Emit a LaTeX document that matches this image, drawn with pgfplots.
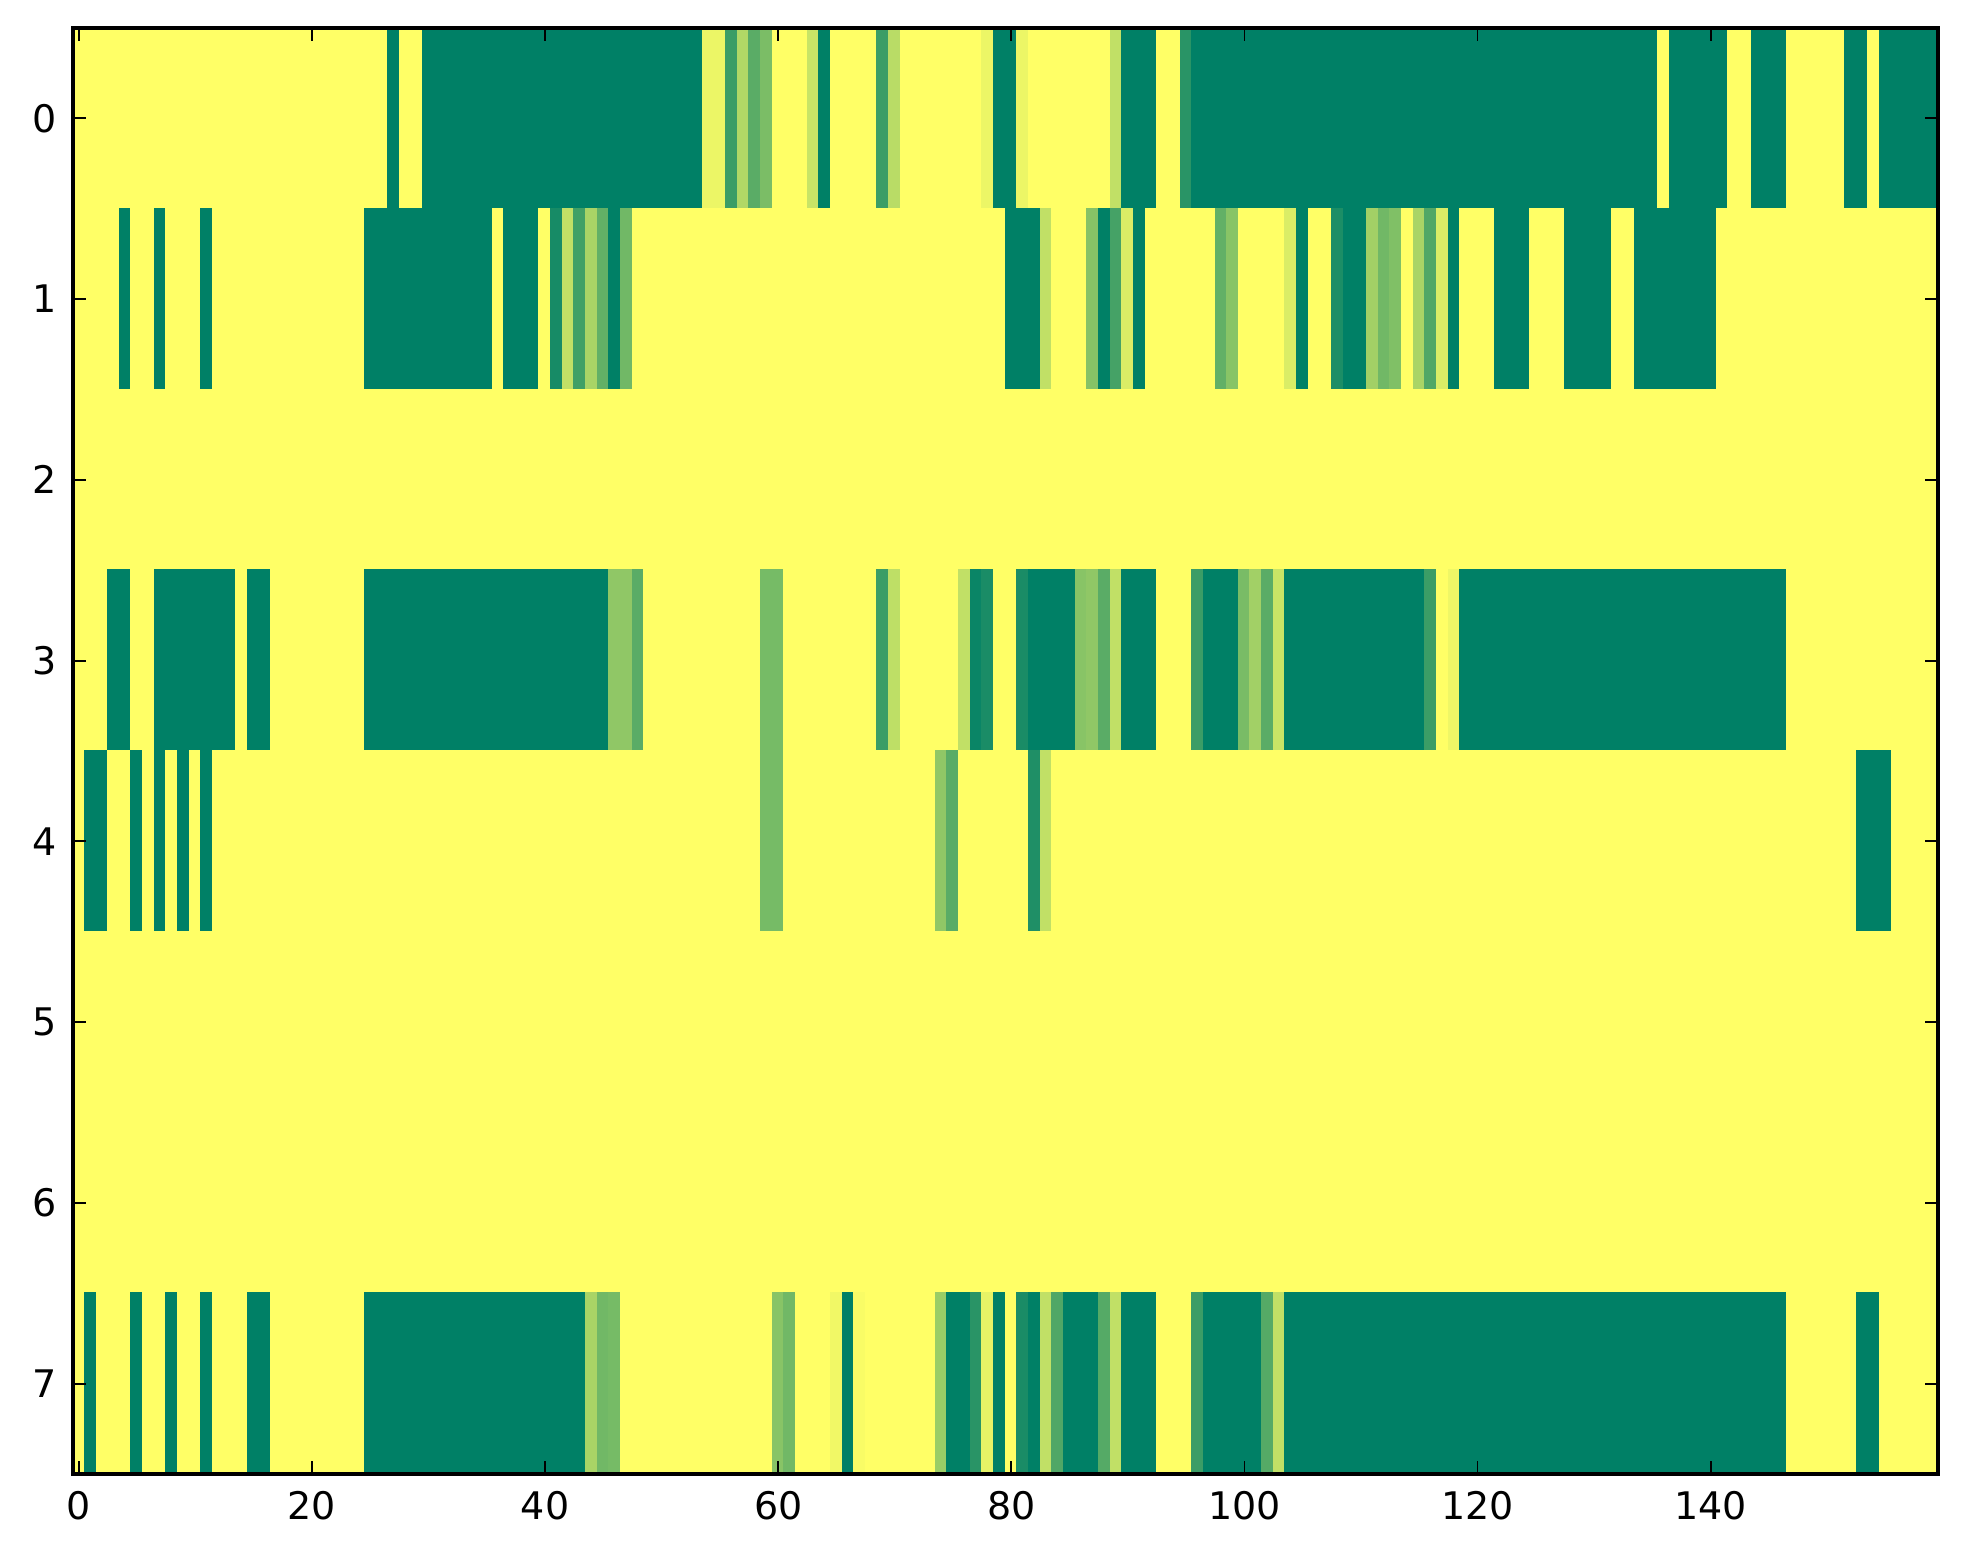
\documentclass[border=0pt]{standalone}
\usepackage{pgfplots}
\pgfplotsset{compat=1.18}
\usepackage{fontspec}
\setmainfont{DejaVu Sans}
\begin{document}
\begin{tikzpicture}
\begin{axis}[
  name=ax,
  scale only axis,
  width=466.25pt, height=361.5pt,
  xmin=-0.5, xmax=159.5, ymin=-0.5, ymax=7.5,
  y dir=reverse,
  enlargelimits=false,
  axis on top,
  colormap={summer}{rgb=(0,0.5,0.4) rgb=(1,1,0.4)},
  point meta min=0, point meta max=1,
  xtick={0,20,...,140}, ytick={0,1,...,7},
  tick pos=both, tick align=inside,
  major tick length=3.2pt,
  minor tick num=0,
  every tick/.style={black, line width=0.45pt},
  axis line style={line width=1pt},
  /pgf/number format/assume math mode=true,
  tick label style={font=\fontsize{9.5pt}{11pt}\selectfont},
  xticklabel style={yshift=-0.8pt},
  yticklabel style={xshift=-0.5pt},
]
\addplot[matrix plot*, mesh/cols=160, mesh/rows=8, point meta=explicit]
table[row sep=\\, x=x, y=y, meta=c] {
x y c\\
0 0 1\\1 0 1\\2 0 1\\3 0 1\\4 0 1\\5 0 1\\6 0 1\\7 0 1\\8 0 1\\9 0 1\\
10 0 1\\11 0 1\\12 0 1\\13 0 1\\14 0 1\\15 0 1\\16 0 1\\17 0 1\\18 0 1\\19 0 1\\
20 0 1\\21 0 1\\22 0 1\\23 0 1\\24 0 1\\25 0 1\\26 0 1\\27 0 0\\28 0 1\\29 0 1\\
30 0 0\\31 0 0\\32 0 0\\33 0 0\\34 0 0\\35 0 0\\36 0 0\\37 0 0\\38 0 0\\39 0 0\\
40 0 0\\41 0 0\\42 0 0\\43 0 0\\44 0 0\\45 0 0\\46 0 0\\47 0 0\\48 0 0\\49 0 0\\
50 0 0\\51 0 0\\52 0 0\\53 0 0\\54 0 0.92\\55 0 0.92\\56 0 0.23\\57 0 0.69\\58 0 0.35\\59 0 0.48\\
60 0 1\\61 0 1\\62 0 1\\63 0 0.78\\64 0 0\\65 0 1\\66 0 1\\67 0 1\\68 0 1\\69 0 0.23\\
70 0 0.72\\71 0 1\\72 0 1\\73 0 1\\74 0 1\\75 0 1\\76 0 1\\77 0 1\\78 0 0.92\\79 0 0\\
80 0 0\\81 0 0.92\\82 0 1\\83 0 1\\84 0 1\\85 0 1\\86 0 1\\87 0 1\\88 0 1\\89 0 0.75\\
90 0 0\\91 0 0\\92 0 0\\93 0 1\\94 0 1\\95 0 0.16\\96 0 0\\97 0 0\\98 0 0\\99 0 0\\
100 0 0\\101 0 0\\102 0 0\\103 0 0\\104 0 0\\105 0 0\\106 0 0\\107 0 0\\108 0 0\\109 0 0\\
110 0 0\\111 0 0\\112 0 0\\113 0 0\\114 0 0\\115 0 0\\116 0 0\\117 0 0\\118 0 0\\119 0 0\\
120 0 0\\121 0 0\\122 0 0\\123 0 0\\124 0 0\\125 0 0\\126 0 0\\127 0 0\\128 0 0\\129 0 0\\
130 0 0\\131 0 0\\132 0 0\\133 0 0\\134 0 0\\135 0 0\\136 0 1\\137 0 0\\138 0 0\\139 0 0\\
140 0 0\\141 0 0\\142 0 1\\143 0 1\\144 0 0\\145 0 0\\146 0 0\\147 0 1\\148 0 1\\149 0 1\\
150 0 1\\151 0 1\\152 0 0\\153 0 0\\154 0 1\\155 0 0\\156 0 0\\157 0 0\\158 0 0\\159 0 0\\
0 1 1\\1 1 1\\2 1 1\\3 1 1\\4 1 0\\5 1 1\\6 1 1\\7 1 0\\8 1 1\\9 1 1\\
10 1 1\\11 1 0\\12 1 1\\13 1 1\\14 1 1\\15 1 1\\16 1 1\\17 1 1\\18 1 1\\19 1 1\\
20 1 1\\21 1 1\\22 1 1\\23 1 1\\24 1 1\\25 1 0\\26 1 0\\27 1 0\\28 1 0\\29 1 0\\
30 1 0\\31 1 0\\32 1 0\\33 1 0\\34 1 0\\35 1 0\\36 1 1\\37 1 0\\38 1 0\\39 1 0\\
40 1 1\\41 1 0.09\\42 1 0.75\\43 1 0.25\\44 1 0.66\\45 1 0.38\\46 1 0\\47 1 0.44\\48 1 1\\49 1 1\\
50 1 1\\51 1 1\\52 1 1\\53 1 1\\54 1 1\\55 1 1\\56 1 1\\57 1 1\\58 1 1\\59 1 1\\
60 1 1\\61 1 1\\62 1 1\\63 1 1\\64 1 1\\65 1 1\\66 1 1\\67 1 1\\68 1 1\\69 1 1\\
70 1 1\\71 1 1\\72 1 1\\73 1 1\\74 1 1\\75 1 1\\76 1 1\\77 1 1\\78 1 1\\79 1 1\\
80 1 0\\81 1 0\\82 1 0\\83 1 0.75\\84 1 1\\85 1 1\\86 1 1\\87 1 0.52\\88 1 0\\89 1 0.27\\
90 1 0.85\\91 1 0\\92 1 1\\93 1 1\\94 1 1\\95 1 1\\96 1 1\\97 1 1\\98 1 0.38\\99 1 0.53\\
100 1 1\\101 1 1\\102 1 1\\103 1 1\\104 1 0.85\\105 1 0\\106 1 1\\107 1 1\\108 1 0.11\\109 1 0\\
110 1 0\\111 1 0.63\\112 1 0.44\\113 1 0.5\\114 1 1\\115 1 0.66\\116 1 0.31\\117 1 0.85\\118 1 0\\119 1 1\\
120 1 1\\121 1 1\\122 1 0\\123 1 0\\124 1 0\\125 1 1\\126 1 1\\127 1 1\\128 1 0\\129 1 0\\
130 1 0\\131 1 0\\132 1 1\\133 1 1\\134 1 0\\135 1 0\\136 1 0\\137 1 0\\138 1 0\\139 1 0\\
140 1 0\\141 1 1\\142 1 1\\143 1 1\\144 1 1\\145 1 1\\146 1 1\\147 1 1\\148 1 1\\149 1 1\\
150 1 1\\151 1 1\\152 1 1\\153 1 1\\154 1 1\\155 1 1\\156 1 1\\157 1 1\\158 1 1\\159 1 1\\
0 2 1\\1 2 1\\2 2 1\\3 2 1\\4 2 1\\5 2 1\\6 2 1\\7 2 1\\8 2 1\\9 2 1\\
10 2 1\\11 2 1\\12 2 1\\13 2 1\\14 2 1\\15 2 1\\16 2 1\\17 2 1\\18 2 1\\19 2 1\\
20 2 1\\21 2 1\\22 2 1\\23 2 1\\24 2 1\\25 2 1\\26 2 1\\27 2 1\\28 2 1\\29 2 1\\
30 2 1\\31 2 1\\32 2 1\\33 2 1\\34 2 1\\35 2 1\\36 2 1\\37 2 1\\38 2 1\\39 2 1\\
40 2 1\\41 2 1\\42 2 1\\43 2 1\\44 2 1\\45 2 1\\46 2 1\\47 2 1\\48 2 1\\49 2 1\\
50 2 1\\51 2 1\\52 2 1\\53 2 1\\54 2 1\\55 2 1\\56 2 1\\57 2 1\\58 2 1\\59 2 1\\
60 2 1\\61 2 1\\62 2 1\\63 2 1\\64 2 1\\65 2 1\\66 2 1\\67 2 1\\68 2 1\\69 2 1\\
70 2 1\\71 2 1\\72 2 1\\73 2 1\\74 2 1\\75 2 1\\76 2 1\\77 2 1\\78 2 1\\79 2 1\\
80 2 1\\81 2 1\\82 2 1\\83 2 1\\84 2 1\\85 2 1\\86 2 1\\87 2 1\\88 2 1\\89 2 1\\
90 2 1\\91 2 1\\92 2 1\\93 2 1\\94 2 1\\95 2 1\\96 2 1\\97 2 1\\98 2 1\\99 2 1\\
100 2 1\\101 2 1\\102 2 1\\103 2 1\\104 2 1\\105 2 1\\106 2 1\\107 2 1\\108 2 1\\109 2 1\\
110 2 1\\111 2 1\\112 2 1\\113 2 1\\114 2 1\\115 2 1\\116 2 1\\117 2 1\\118 2 1\\119 2 1\\
120 2 1\\121 2 1\\122 2 1\\123 2 1\\124 2 1\\125 2 1\\126 2 1\\127 2 1\\128 2 1\\129 2 1\\
130 2 1\\131 2 1\\132 2 1\\133 2 1\\134 2 1\\135 2 1\\136 2 1\\137 2 1\\138 2 1\\139 2 1\\
140 2 1\\141 2 1\\142 2 1\\143 2 1\\144 2 1\\145 2 1\\146 2 1\\147 2 1\\148 2 1\\149 2 1\\
150 2 1\\151 2 1\\152 2 1\\153 2 1\\154 2 1\\155 2 1\\156 2 1\\157 2 1\\158 2 1\\159 2 1\\
0 3 1\\1 3 1\\2 3 1\\3 3 0\\4 3 0\\5 3 1\\6 3 1\\7 3 0\\8 3 0\\9 3 0\\
10 3 0\\11 3 0\\12 3 0\\13 3 0\\14 3 1\\15 3 0\\16 3 0\\17 3 1\\18 3 1\\19 3 1\\
20 3 1\\21 3 1\\22 3 1\\23 3 1\\24 3 1\\25 3 0\\26 3 0\\27 3 0\\28 3 0\\29 3 0\\
30 3 0\\31 3 0\\32 3 0\\33 3 0\\34 3 0\\35 3 0\\36 3 0\\37 3 0\\38 3 0\\39 3 0\\
40 3 0\\41 3 0\\42 3 0\\43 3 0\\44 3 0\\45 3 0\\46 3 0.56\\47 3 0.56\\48 3 0.35\\49 3 1\\
50 3 1\\51 3 1\\52 3 1\\53 3 1\\54 3 1\\55 3 1\\56 3 1\\57 3 1\\58 3 1\\59 3 0.46\\
60 3 0.46\\61 3 1\\62 3 1\\63 3 1\\64 3 1\\65 3 1\\66 3 1\\67 3 1\\68 3 1\\69 3 0.23\\
70 3 0.74\\71 3 1\\72 3 1\\73 3 1\\74 3 1\\75 3 1\\76 3 0.75\\77 3 0.04\\78 3 0.1\\79 3 1\\
80 3 1\\81 3 0.1\\82 3 0\\83 3 0\\84 3 0\\85 3 0\\86 3 0.53\\87 3 0.56\\88 3 0.35\\89 3 0.75\\
90 3 0\\91 3 0\\92 3 0\\93 3 1\\94 3 1\\95 3 1\\96 3 0.23\\97 3 0\\98 3 0\\99 3 0\\
100 3 0.47\\101 3 0.63\\102 3 0.35\\103 3 0.78\\104 3 0\\105 3 0\\106 3 0\\107 3 0\\108 3 0\\109 3 0\\
110 3 0\\111 3 0\\112 3 0\\113 3 0\\114 3 0\\115 3 0\\116 3 0.23\\117 3 1\\118 3 0.93\\119 3 0\\
120 3 0\\121 3 0\\122 3 0\\123 3 0\\124 3 0\\125 3 0\\126 3 0\\127 3 0\\128 3 0\\129 3 0\\
130 3 0\\131 3 0\\132 3 0\\133 3 0\\134 3 0\\135 3 0\\136 3 0\\137 3 0\\138 3 0\\139 3 0\\
140 3 0\\141 3 0\\142 3 0\\143 3 0\\144 3 0\\145 3 0\\146 3 0\\147 3 1\\148 3 1\\149 3 1\\
150 3 1\\151 3 1\\152 3 1\\153 3 1\\154 3 1\\155 3 1\\156 3 1\\157 3 1\\158 3 1\\159 3 1\\
0 4 1\\1 4 0\\2 4 0\\3 4 1\\4 4 1\\5 4 0\\6 4 1\\7 4 0\\8 4 1\\9 4 0\\
10 4 1\\11 4 0\\12 4 1\\13 4 1\\14 4 1\\15 4 1\\16 4 1\\17 4 1\\18 4 1\\19 4 1\\
20 4 1\\21 4 1\\22 4 1\\23 4 1\\24 4 1\\25 4 1\\26 4 1\\27 4 1\\28 4 1\\29 4 1\\
30 4 1\\31 4 1\\32 4 1\\33 4 1\\34 4 1\\35 4 1\\36 4 1\\37 4 1\\38 4 1\\39 4 1\\
40 4 1\\41 4 1\\42 4 1\\43 4 1\\44 4 1\\45 4 1\\46 4 1\\47 4 1\\48 4 1\\49 4 1\\
50 4 1\\51 4 1\\52 4 1\\53 4 1\\54 4 1\\55 4 1\\56 4 1\\57 4 1\\58 4 1\\59 4 0.46\\
60 4 0.46\\61 4 1\\62 4 1\\63 4 1\\64 4 1\\65 4 1\\66 4 1\\67 4 1\\68 4 1\\69 4 1\\
70 4 1\\71 4 1\\72 4 1\\73 4 1\\74 4 0.56\\75 4 0.35\\76 4 1\\77 4 1\\78 4 1\\79 4 1\\
80 4 1\\81 4 1\\82 4 0.12\\83 4 0.75\\84 4 1\\85 4 1\\86 4 1\\87 4 1\\88 4 1\\89 4 1\\
90 4 1\\91 4 1\\92 4 1\\93 4 1\\94 4 1\\95 4 1\\96 4 1\\97 4 1\\98 4 1\\99 4 1\\
100 4 1\\101 4 1\\102 4 1\\103 4 1\\104 4 1\\105 4 1\\106 4 1\\107 4 1\\108 4 1\\109 4 1\\
110 4 1\\111 4 1\\112 4 1\\113 4 1\\114 4 1\\115 4 1\\116 4 1\\117 4 1\\118 4 1\\119 4 1\\
120 4 1\\121 4 1\\122 4 1\\123 4 1\\124 4 1\\125 4 1\\126 4 1\\127 4 1\\128 4 1\\129 4 1\\
130 4 1\\131 4 1\\132 4 1\\133 4 1\\134 4 1\\135 4 1\\136 4 1\\137 4 1\\138 4 1\\139 4 1\\
140 4 1\\141 4 1\\142 4 1\\143 4 1\\144 4 1\\145 4 1\\146 4 1\\147 4 1\\148 4 1\\149 4 1\\
150 4 1\\151 4 1\\152 4 1\\153 4 0\\154 4 0\\155 4 0\\156 4 1\\157 4 1\\158 4 1\\159 4 1\\
0 5 1\\1 5 1\\2 5 1\\3 5 1\\4 5 1\\5 5 1\\6 5 1\\7 5 1\\8 5 1\\9 5 1\\
10 5 1\\11 5 1\\12 5 1\\13 5 1\\14 5 1\\15 5 1\\16 5 1\\17 5 1\\18 5 1\\19 5 1\\
20 5 1\\21 5 1\\22 5 1\\23 5 1\\24 5 1\\25 5 1\\26 5 1\\27 5 1\\28 5 1\\29 5 1\\
30 5 1\\31 5 1\\32 5 1\\33 5 1\\34 5 1\\35 5 1\\36 5 1\\37 5 1\\38 5 1\\39 5 1\\
40 5 1\\41 5 1\\42 5 1\\43 5 1\\44 5 1\\45 5 1\\46 5 1\\47 5 1\\48 5 1\\49 5 1\\
50 5 1\\51 5 1\\52 5 1\\53 5 1\\54 5 1\\55 5 1\\56 5 1\\57 5 1\\58 5 1\\59 5 1\\
60 5 1\\61 5 1\\62 5 1\\63 5 1\\64 5 1\\65 5 1\\66 5 1\\67 5 1\\68 5 1\\69 5 1\\
70 5 1\\71 5 1\\72 5 1\\73 5 1\\74 5 1\\75 5 1\\76 5 1\\77 5 1\\78 5 1\\79 5 1\\
80 5 1\\81 5 1\\82 5 1\\83 5 1\\84 5 1\\85 5 1\\86 5 1\\87 5 1\\88 5 1\\89 5 1\\
90 5 1\\91 5 1\\92 5 1\\93 5 1\\94 5 1\\95 5 1\\96 5 1\\97 5 1\\98 5 1\\99 5 1\\
100 5 1\\101 5 1\\102 5 1\\103 5 1\\104 5 1\\105 5 1\\106 5 1\\107 5 1\\108 5 1\\109 5 1\\
110 5 1\\111 5 1\\112 5 1\\113 5 1\\114 5 1\\115 5 1\\116 5 1\\117 5 1\\118 5 1\\119 5 1\\
120 5 1\\121 5 1\\122 5 1\\123 5 1\\124 5 1\\125 5 1\\126 5 1\\127 5 1\\128 5 1\\129 5 1\\
130 5 1\\131 5 1\\132 5 1\\133 5 1\\134 5 1\\135 5 1\\136 5 1\\137 5 1\\138 5 1\\139 5 1\\
140 5 1\\141 5 1\\142 5 1\\143 5 1\\144 5 1\\145 5 1\\146 5 1\\147 5 1\\148 5 1\\149 5 1\\
150 5 1\\151 5 1\\152 5 1\\153 5 1\\154 5 1\\155 5 1\\156 5 1\\157 5 1\\158 5 1\\159 5 1\\
0 6 1\\1 6 1\\2 6 1\\3 6 1\\4 6 1\\5 6 1\\6 6 1\\7 6 1\\8 6 1\\9 6 1\\
10 6 1\\11 6 1\\12 6 1\\13 6 1\\14 6 1\\15 6 1\\16 6 1\\17 6 1\\18 6 1\\19 6 1\\
20 6 1\\21 6 1\\22 6 1\\23 6 1\\24 6 1\\25 6 1\\26 6 1\\27 6 1\\28 6 1\\29 6 1\\
30 6 1\\31 6 1\\32 6 1\\33 6 1\\34 6 1\\35 6 1\\36 6 1\\37 6 1\\38 6 1\\39 6 1\\
40 6 1\\41 6 1\\42 6 1\\43 6 1\\44 6 1\\45 6 1\\46 6 1\\47 6 1\\48 6 1\\49 6 1\\
50 6 1\\51 6 1\\52 6 1\\53 6 1\\54 6 1\\55 6 1\\56 6 1\\57 6 1\\58 6 1\\59 6 1\\
60 6 1\\61 6 1\\62 6 1\\63 6 1\\64 6 1\\65 6 1\\66 6 1\\67 6 1\\68 6 1\\69 6 1\\
70 6 1\\71 6 1\\72 6 1\\73 6 1\\74 6 1\\75 6 1\\76 6 1\\77 6 1\\78 6 1\\79 6 1\\
80 6 1\\81 6 1\\82 6 1\\83 6 1\\84 6 1\\85 6 1\\86 6 1\\87 6 1\\88 6 1\\89 6 1\\
90 6 1\\91 6 1\\92 6 1\\93 6 1\\94 6 1\\95 6 1\\96 6 1\\97 6 1\\98 6 1\\99 6 1\\
100 6 1\\101 6 1\\102 6 1\\103 6 1\\104 6 1\\105 6 1\\106 6 1\\107 6 1\\108 6 1\\109 6 1\\
110 6 1\\111 6 1\\112 6 1\\113 6 1\\114 6 1\\115 6 1\\116 6 1\\117 6 1\\118 6 1\\119 6 1\\
120 6 1\\121 6 1\\122 6 1\\123 6 1\\124 6 1\\125 6 1\\126 6 1\\127 6 1\\128 6 1\\129 6 1\\
130 6 1\\131 6 1\\132 6 1\\133 6 1\\134 6 1\\135 6 1\\136 6 1\\137 6 1\\138 6 1\\139 6 1\\
140 6 1\\141 6 1\\142 6 1\\143 6 1\\144 6 1\\145 6 1\\146 6 1\\147 6 1\\148 6 1\\149 6 1\\
150 6 1\\151 6 1\\152 6 1\\153 6 1\\154 6 1\\155 6 1\\156 6 1\\157 6 1\\158 6 1\\159 6 1\\
0 7 1\\1 7 0\\2 7 1\\3 7 1\\4 7 1\\5 7 0\\6 7 1\\7 7 1\\8 7 0\\9 7 1\\
10 7 1\\11 7 0\\12 7 1\\13 7 1\\14 7 1\\15 7 0\\16 7 0\\17 7 1\\18 7 1\\19 7 1\\
20 7 1\\21 7 1\\22 7 1\\23 7 1\\24 7 1\\25 7 0\\26 7 0\\27 7 0\\28 7 0\\29 7 0\\
30 7 0\\31 7 0\\32 7 0\\33 7 0\\34 7 0\\35 7 0\\36 7 0\\37 7 0\\38 7 0\\39 7 0\\
40 7 0\\41 7 0\\42 7 0\\43 7 0\\44 7 0.66\\45 7 0.44\\46 7 0.46\\47 7 1\\48 7 1\\49 7 1\\
50 7 1\\51 7 1\\52 7 1\\53 7 1\\54 7 1\\55 7 1\\56 7 1\\57 7 1\\58 7 1\\59 7 1\\
60 7 0.53\\61 7 0.44\\62 7 1\\63 7 1\\64 7 1\\65 7 0.94\\66 7 0\\67 7 0.97\\68 7 1\\69 7 1\\
70 7 1\\71 7 1\\72 7 1\\73 7 1\\74 7 0.6\\75 7 0\\76 7 0\\77 7 0.16\\78 7 0.9\\79 7 0\\
80 7 1\\81 7 0.1\\82 7 0\\83 7 0.75\\84 7 0.31\\85 7 0\\86 7 0\\87 7 0\\88 7 0.33\\89 7 0.75\\
90 7 0\\91 7 0\\92 7 0\\93 7 1\\94 7 1\\95 7 1\\96 7 0.23\\97 7 0\\98 7 0\\99 7 0\\
100 7 0\\101 7 0\\102 7 0.33\\103 7 0.75\\104 7 0\\105 7 0\\106 7 0\\107 7 0\\108 7 0\\109 7 0\\
110 7 0\\111 7 0\\112 7 0\\113 7 0\\114 7 0\\115 7 0\\116 7 0\\117 7 0\\118 7 0\\119 7 0\\
120 7 0\\121 7 0\\122 7 0\\123 7 0\\124 7 0\\125 7 0\\126 7 0\\127 7 0\\128 7 0\\129 7 0\\
130 7 0\\131 7 0\\132 7 0\\133 7 0\\134 7 0\\135 7 0\\136 7 0\\137 7 0\\138 7 0\\139 7 0\\
140 7 0\\141 7 0\\142 7 0\\143 7 0\\144 7 0\\145 7 0\\146 7 0\\147 7 1\\148 7 1\\149 7 1\\
150 7 1\\151 7 1\\152 7 1\\153 7 0\\154 7 0\\155 7 1\\156 7 1\\157 7 1\\158 7 1\\159 7 1\\
};
\end{axis}
\pgfresetboundingbox
\path[use as bounding box] ([xshift=-18.25pt,yshift=-22.5pt]ax.south west) rectangle ([xshift=6.25pt,yshift=7pt]ax.north east);
\end{tikzpicture}
\end{document}
